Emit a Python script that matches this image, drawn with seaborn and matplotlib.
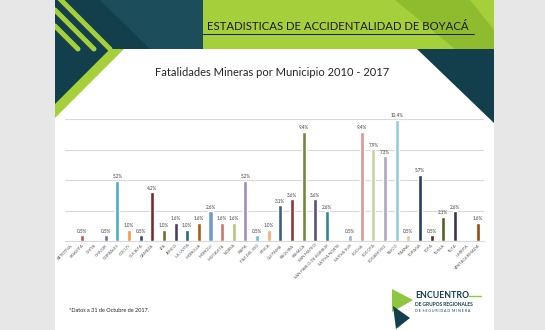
import matplotlib
matplotlib.use("Agg")
import matplotlib.pyplot as plt
import seaborn as sns
import pandas as pd
from matplotlib.patches import Polygon
from matplotlib.lines import Line2D

# ---------------- data ----------------
municipios = ["BETEITIVA", "BOAVITA", "CHITA", "CHIVOR", "CORRALES", "COCUY",
              "CUCAITA", "GAMEZA", "IZA", "JERICO", "LA UVITA", "MONGUA",
              "MONGUI", "MOTAVITA", "NOBSA", "PAIPA", "PAZ DEL RIO", "PESCA",
              "QUIPAMA", "RAQUIRA", "SAMACA", "SAN MATEO", "SAN PABLO DE BORBUR",
              "SATIVA NORTE", "SATIVA SUR", "SOCHA", "SOCOTA", "SOGAMOSO",
              "TASCO", "TIBANA", "TOPAGA", "TOTA", "TUNJA", "TUTA", "UMBITA",
              "VENTAQUEMADA"]
porcentajes = [0, 0.5, 0, 0.5, 5.2, 1.0,
               0.5, 4.2, 1.0, 1.6, 1.0, 1.6,
               2.6, 1.6, 1.6, 5.2, 0.5, 1.0,
               3.1, 3.6, 9.4, 3.6, 2.6,
               0, 0.5, 9.4, 7.9, 7.3,
               10.4, 0.5, 5.7, 0.5, 2.1, 2.6, 0,
               1.6]
colores = ["#4F81BD", "#C0504D", "#9BBB59", "#8064A2", "#4BACC6", "#F79646",
           "#2C4D75", "#772C2A", "#5F7530", "#4D3B62", "#276A7C", "#B65708",
           "#729ACA", "#CD7371", "#AFC97A", "#A18BBA", "#6FBDD3", "#F9AB6B",
           "#3A5E8C", "#8C3836", "#71893F", "#5E4B7C", "#31859C", "#B9710A",
           "#95B3D7", "#D99694", "#C3D69B", "#B3A2C7", "#93CDDD", "#FAC090",
           "#254061", "#632523", "#4F6228", "#3F3151", "#215968", "#984807"]
total_fatalidades = 191

titulo = "ESTADISTICAS DE ACCIDENTALIDAD DE BOYACÁ"
subtitulo = "Fatalidades Mineras por Municipio 2010 - 2017"
nota = "*Datos a 31 de Octubre de 2017."

# ---------------- figure ----------------
sns.set_theme(style="white")
plt.rcParams['font.family'] = ['Lato', 'DejaVu Sans']

W, H = 545, 330
fig = plt.figure(figsize=(W / 100, H / 100), dpi=100)
fig.patch.set_facecolor('#e7e7e7')


def P(x, y):
    return (x / W, 1 - y / H)


def poly(pts, color, z=0):
    fig.add_artist(Polygon([P(*p) for p in pts], closed=True,
                           transform=fig.transFigure, facecolor=color,
                           edgecolor='none', zorder=z))


def line(pts, color, lw, z=0.3):
    xs = [P(*p)[0] for p in pts]
    ys = [P(*p)[1] for p in pts]
    fig.add_artist(Line2D(xs, ys, transform=fig.transFigure, color=color,
                          lw=lw, solid_joinstyle='miter', zorder=z))


TEAL = '#133f4c'
GREEN = '#a5d03b'

# slide
poly([(55, 0), (494, 0), (494, 330), (55, 330)], 'white', 0)
# banner
poly([(55, 0), (203, 0), (203, 49), (55, 49)], TEAL, 0.1)
poly([(203, 0), (494, 0), (494, 49), (203, 49)], GREEN, 0.1)
poly([(395, 0), (470, 0), (494, 30), (494, 49), (455, 49)], '#8fbc2f', 0.15)
poly([(120, 0), (203, 0), (203, 49), (150, 49), (100, 0)], '#1b4d5a', 0.12)
# right dark triangle
poly([(417, 49), (494, 49), (494, 123)], TEAL, 0.2)
# left chevrons
poly([(55, 49), (124, 49), (55, 118)], GREEN, 0.2)
poly([(55, 49), (110, 49), (55, 104)], TEAL, 0.21)
for a in [-6, 10, 26]:
    line([(55, a), (55 + 49 - a, 49)], GREEN, 3.6)
# cover decoration outside slide
poly([(0, 0), (55, 0), (55, 330), (0, 330)], '#e7e7e7', 0.5)

fig.text(*P(338, 26), titulo, ha='center', va='center', fontsize=8.2,
         color='#1a1a1a', zorder=1)
line([(203, 33.5), (474, 33.5)], '#1a1a1a', 0.7, 1)

fig.text(*P(272, 73), subtitulo, ha='center', va='center', fontsize=8,
         color='#262626', zorder=1)

# ---------------- chart ----------------
base, top = 241.3, 119
ax = fig.add_axes([65 / W, 1 - base / H, (484 - 65) / W, (base - top) / H])
ax.set_zorder(2)
ax.set_facecolor('none')

df = pd.DataFrame({'Municipio': municipios, 'Porcentaje': porcentajes})
sns.barplot(data=df, x='Municipio', y='Porcentaje', hue='Municipio',
            palette=colores, legend=False, width=0.35, saturation=1, ax=ax)

step = 100 * 5 / total_fatalidades
ax.set_ylim(0, 4 * step)
ax.set_xlim(-0.5, len(municipios) - 0.5)
ax.set_yticks([k * step for k in range(5)])
ax.yaxis.grid(True, color='#d9d9d9', lw=0.8)
ax.set_axisbelow(True)
ax.tick_params(axis='y', left=False, labelleft=False)
ax.tick_params(axis='x', length=0, pad=1.5)
for s in ['top', 'right', 'left']:
    ax.spines[s].set_visible(False)
ax.spines['bottom'].set_color('#d9d9d9')
ax.spines['bottom'].set_linewidth(0.8)
ax.set_xlabel('')
ax.set_ylabel('')
ax.set_xticks(range(len(municipios)))
ax.set_xticklabels(municipios, rotation=45, ha='right', rotation_mode='anchor',
                   fontsize=3, color='#595959')

for i, v in enumerate(porcentajes):
    if v > 0:
        ax.text(i, v + 0.12, f"{v:.1f}%", ha='center', va='bottom',
                fontsize=3.3, color='#404040', clip_on=False)

# ---------------- footer ----------------
fig.text(*P(69, 310), nota, ha='left', va='center', fontsize=4,
         color='#262626', zorder=1)
# logo icon
poly([(392, 289), (413, 300), (392, 312)], '#8dc63f', 1)
poly([(393, 306), (410, 318), (396, 329)], TEAL, 1)
fig.text(*P(415, 296), "ENCUENTRO", ha='left', va='center', fontsize=6.3,
         fontweight='bold', color=TEAL, zorder=1)
line([(469, 296), (481, 296)], '#8dc63f', 1, 1)
fig.text(*P(415, 304.5), "DE GRUPOS REGIONALES", ha='left', va='center', fontsize=3.5,
         fontweight='bold', color=TEAL, zorder=1)
fig.text(*P(415, 310.5), "D E  S E G U R I D A D  M I N E R A", ha='left', va='center',
         fontsize=2.6, color=TEAL, zorder=1)

fig.savefig('out.png', dpi=100, facecolor=fig.get_facecolor())
